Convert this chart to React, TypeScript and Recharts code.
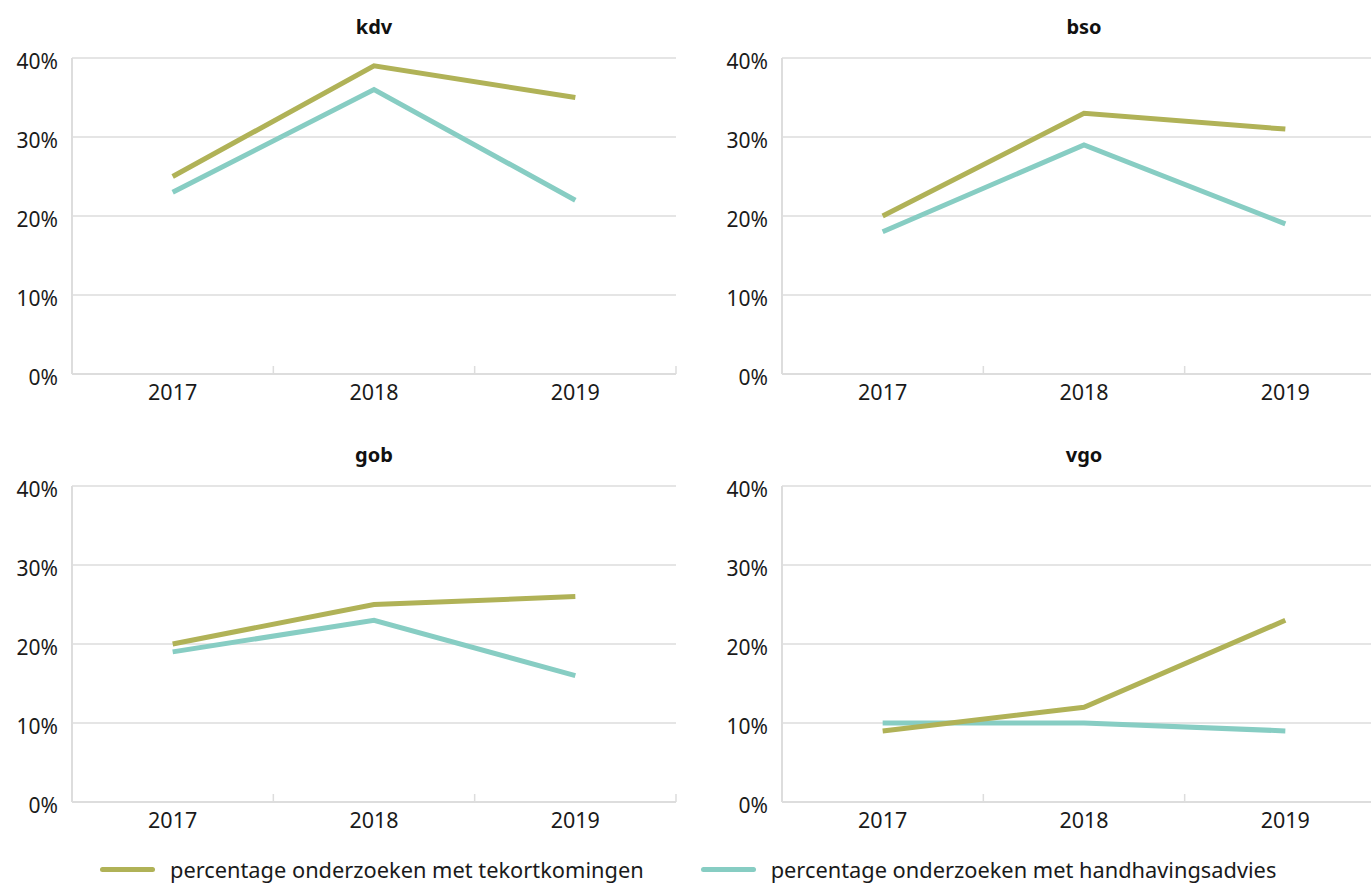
import { LineChart, Line, XAxis, YAxis, CartesianGrid } from 'recharts';

const years = ['2017', '2018', '2019'];
const panels = ['kdv', 'bso', 'gob', 'vgo'];
const tekortkomingen = {
	kdv: [25, 39, 35],
	bso: [20, 33, 31],
	gob: [20, 25, 26],
	vgo: [9, 12, 23],
};
const handhavingsadvies = {
	kdv: [23, 36, 22],
	bso: [18, 29, 19],
	gob: [19, 23, 16],
	vgo: [10, 10, 9],
};
const yTicks = [0, 10, 20, 30, 40];
const seriesNames = [
	'percentage onderzoeken met tekortkomingen',
	'percentage onderzoeken met handhavingsadvies',
];

const OLIVE = '#b0b257';
const TEAL = '#87cdc3';
const GRID = '#dddddd';
const TEXT = '#1a1a1a';
const FONT = '"Noto Sans", sans-serif';
const TICK_SIZE = 6;
const TICK_MARGIN = 5;

const positions = [
	{ left: 0, top: 0 },
	{ left: 710, top: 0 },
	{ left: 0, top: 428 },
	{ left: 710, top: 428 },
];

// year label plus a small separator tick at the right edge of each band
function YearTick(props) {
	const { x, y, payload, width, visibleTicksCount } = props;
	const band = width / visibleTicksCount;
	const axisY = y - TICK_SIZE - TICK_MARGIN;
	return (
		<g>
			<line
				x1={x + band / 2}
				x2={x + band / 2}
				y1={axisY}
				y2={axisY - 8}
				stroke={GRID}
				strokeWidth={1.5}
			/>
			<text x={x} y={y} dy='0.7em' textAnchor='middle' fill={TEXT} fontSize={21.5}>
				{payload.value}
			</text>
		</g>
	);
}

function Panel({ name, left, top }) {
	const data = years.map((year, i) => ({
		year,
		tek: tekortkomingen[name][i],
		hand: handhavingsadvies[name][i],
	}));

	return (
		<div style={{ position: 'absolute', left, top, width: 700, height: 420 }}>
			<div
				style={{
					position: 'absolute',
					left: 72,
					width: 604,
					top: 13,
					textAlign: 'center',
					fontWeight: 700,
					fontSize: 20,
					color: '#111',
				}}
			>
				{name}
			</div>
			<LineChart
				width={700}
				height={414}
				data={data}
				margin={{ top: 58, right: 24, bottom: 0, left: 0 }}
			>
				<CartesianGrid horizontal vertical={false} stroke={GRID} strokeWidth={1.5} />
				<XAxis
					dataKey='year'
					scale='band'
					axisLine={{ stroke: GRID, strokeWidth: 2 }}
					tickLine={false}
					tickSize={TICK_SIZE}
					tickMargin={TICK_MARGIN}
					height={40}
					tick={<YearTick />}
				/>
				<YAxis
					domain={[0, 40]}
					ticks={yTicks}
					width={72}
					axisLine={{ stroke: GRID, strokeWidth: 2 }}
					tickLine={false}
					tickMargin={8}
					tickFormatter={(v) => v + '%'}
					tick={{ fill: TEXT, fontSize: 21, dy: 4 }}
				/>
				<Line
					dataKey='hand'
					stroke={TEAL}
					strokeWidth={5}
					dot={false}
					isAnimationActive={false}
				/>
				<Line
					dataKey='tek'
					stroke={OLIVE}
					strokeWidth={5}
					dot={false}
					isAnimationActive={false}
				/>
			</LineChart>
		</div>
	);
}

export default function App() {
	return (
		<div
			style={{
				position: 'absolute',
				left: 0,
				top: 0,
				width: 1371,
				height: 883,
				overflow: 'hidden',
				background: '#fff',
				fontFamily: FONT,
			}}
		>
			{panels.map((name, i) => (
				<Panel key={name} name={name} left={positions[i].left} top={positions[i].top} />
			))}
			<div
				style={{
					position: 'absolute',
					top: 855,
					left: 100,
					display: 'flex',
					alignItems: 'center',
					fontSize: 21.8,
					color: TEXT,
				}}
			>
				{seriesNames.map((s, i) => (
					<div key={s} style={{ display: 'flex', alignItems: 'center', marginRight: i === 0 ? 57 : 0 }}>
						<div
							style={{
								width: 55,
								height: 5,
								borderRadius: 3,
								background: i === 0 ? OLIVE : TEAL,
								marginRight: 15,
							}}
						/>
						<span>{s}</span>
					</div>
				))}
			</div>
		</div>
	);
}
